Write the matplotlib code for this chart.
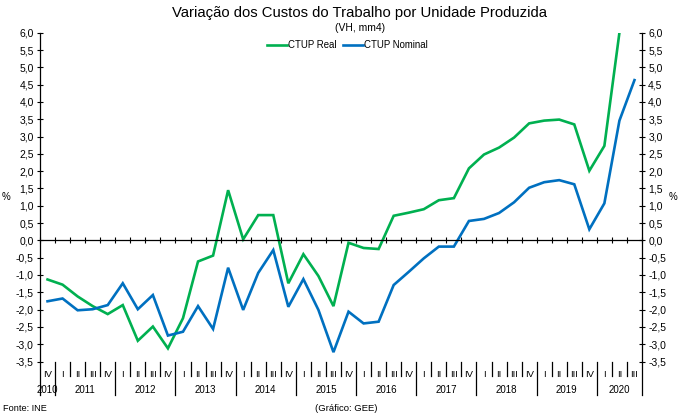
import numpy as np
import matplotlib
matplotlib.use("Agg")
import matplotlib.pyplot as plt
from matplotlib.lines import Line2D
from matplotlib.transforms import blended_transform_factory

plt.rcParams['font.family'] = ['Liberation Sans', 'DejaVu Sans']

quarters = ["IV"] + ["I", "II", "III", "IV"] * 9 + ["I", "II", "III"]
years = ["2010", "2011", "2012", "2013", "2014", "2015", "2016", "2017", "2018", "2019", "2020"]
year_counts = [1, 4, 4, 4, 4, 4, 4, 4, 4, 4, 3]

ctup_real = [-1.13, -1.28, -1.62, -1.90, -2.13, -1.87, -2.90, -2.49, -3.12, -2.25,
             -0.61, -0.44, 1.45, 0.03, 0.73, 0.73, -1.24, -0.40, -1.03, -1.90,
             -0.07, -0.22, -0.25, 0.71, 0.80, 0.90, 1.16, 1.22, 2.08, 2.48,
             2.68, 2.97, 3.38, 3.46, 3.49, 3.35, 2.01, 2.73, 6.00, 7.30]
ctup_nominal = [-1.76, -1.68, -2.02, -1.99, -1.87, -1.24, -1.99, -1.58, -2.75, -2.64,
                -1.90, -2.56, -0.79, -2.01, -0.94, -0.28, -1.92, -1.12, -2.01, -3.23,
                -2.06, -2.40, -2.35, -1.29, -0.91, -0.52, -0.18, -0.18, 0.56, 0.62,
                0.79, 1.10, 1.52, 1.68, 1.74, 1.62, 0.32, 1.07, 3.46, 4.63]
series_names = ["CTUP Real", "CTUP Nominal"]

GREEN = "#00B050"
BLUE = "#0070C0"
W, H = 680, 415
fig = plt.figure(figsize=(W / 100, H / 100), dpi=100)
left, right, top, bottom = 40, 642, 32.7, 361.5
ax = fig.add_axes([left / W, 1 - bottom / H, (right - left) / W, (bottom - top) / H])

x = np.arange(len(quarters))
ax.plot(x, ctup_real, color=GREEN, lw=1.9, solid_joinstyle="miter")
ax.plot(x, ctup_nominal, color=BLUE, lw=1.9, solid_joinstyle="miter")

ax.set_xlim(-0.5, len(quarters) - 0.5)
ax.set_ylim(-3.5, 6.0)
yt = np.arange(-3.5, 6.01, 0.5)
ax.set_yticks(yt)
ax.set_yticklabels([f"{v:.1f}".replace(".", ",") for v in yt])
ax.tick_params(axis='y', which='both', direction='inout', length=5, width=0.8,
               left=True, right=True, labelleft=True, labelright=True, labelsize=7.5, pad=2)

ax.spines['top'].set_visible(False)
ax.spines['bottom'].set_position(('data', 0))
for s in ['left', 'right', 'bottom']:
    ax.spines[s].set_linewidth(0.9)
    ax.spines[s].set_color('black')
ax.set_xticks(np.arange(-0.5, len(quarters), 1.0))
ax.set_xticklabels([])
ax.tick_params(axis='x', direction='inout', length=4, width=0.8)

trans = blended_transform_factory(ax.transData, ax.transAxes)
ph = bottom - top
q_y = -(374 - bottom) / ph
y_y = -(390 - bottom) / ph
q_line = -(376 - bottom) / ph
y_line = -(395 - bottom) / ph

for i, q in enumerate(quarters):
    ax.text(i, q_y, q, transform=trans, ha='center', va='center', fontsize=6.8)

bounds = np.cumsum([0] + year_counts)
for k in range(len(quarters) + 1):
    b = k - 0.5
    end = y_line if k in bounds else q_line
    ax.plot([b, b], [0, end], transform=trans, color='black', lw=0.9, clip_on=False)

for j, yr in enumerate(years):
    c = (bounds[j] + bounds[j + 1] - 1) / 2
    ax.text(c, y_y, yr, transform=trans, ha='center', va='center', fontsize=7)

fig.text(360 / W, 1 - 13 / H, "Variação dos Custos do Trabalho por Unidade Produzida",
         ha='center', va='center', fontsize=10.7)
fig.text(360 / W, 1 - 28 / H, "(VH, mm4)", ha='center', va='center', fontsize=7.5)
fig.text(6 / W, 1 - 197 / H, "%", ha='center', va='center', fontsize=7)
fig.text(673 / W, 1 - 197 / H, "%", ha='center', va='center', fontsize=7)
fig.text(3 / W, 1 - 408 / H, "Fonte: INE", ha='left', va='center', fontsize=6.6)
fig.text(346 / W, 1 - 408 / H, "(Gráfico: GEE)", ha='center', va='center', fontsize=6.8)

# legend drawn manually
leg_y = 1 - 45 / H
for (x0, x1, tx), col, name in zip([(267, 287, 288), (343, 363, 364)], [GREEN, BLUE], series_names):
    fig.add_artist(Line2D([x0 / W, x1 / W], [leg_y, leg_y], color=col, lw=1.9,
                          transform=fig.transFigure))
    fig.text(tx / W, leg_y, name, ha='left', va='center', fontsize=6.9)

fig.savefig("out.png", dpi=100)
